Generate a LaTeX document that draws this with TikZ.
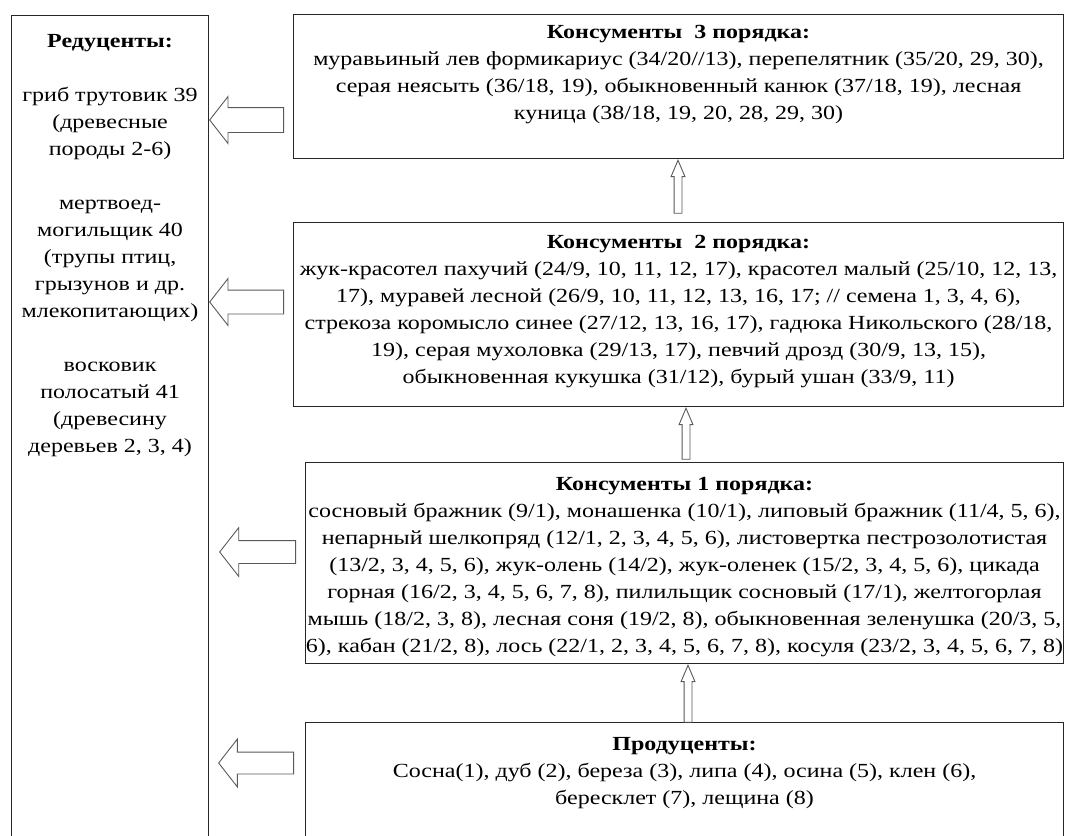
\documentclass[tikz,border=0pt]{standalone}
\usepackage{fontspec}
\setmainfont{Liberation Serif}[FakeStretch=1.2]
\usetikzlibrary{positioning, shapes.arrows}

\begin{document}
\begin{tikzpicture}[x=1pt, y=-1pt]
        % Setup the styles for boxes, texts and block arrows
        \tikzset{box/.style={draw=black!85, line width=1.1pt,
                             inner sep=0pt, anchor=north west},
                 txt/.style={align=center, inner sep=0pt,
                             font=\fontsize{20}{27}\selectfont},
                 larrow/.style={single arrow, draw=black!65, line width=0.9pt,
                                shape border rotate=180,
                                single arrow tip angle=104, anchor=tip},
                 uarrow/.style={single arrow, draw=black!65, line width=0.9pt,
                                inner sep=3.5pt, shape border rotate=90,
                                single arrow head extend=3pt,
                                single arrow tip angle=46, anchor=tip}}

        \useasboundingbox (0,0) rectangle (1065,835);
        \clip (0,0) rectangle (1065,835);

        % Draw the boxes
        \node[box, minimum width=197pt, minimum height=900pt] at (11,15)  (red)  {};
        \node[box, minimum width=770pt, minimum height=144pt] at (293,14)  (k3)   {};
        \node[box, minimum width=770pt, minimum height=184pt] at (293,222) (k2)   {};
        \node[box, minimum width=758pt, minimum height=201pt] at (305,462) (k1)   {};
        \node[box, minimum width=758pt, minimum height=200pt] at (305,722) (prod) {};

        % Fill in the texts
        \node[txt, below=19.5pt of red.north] (redt) {\textbf{Редуценты:}\\[27pt]
            гриб трутовик 39\\ (древесные\\ породы 2-6)\\[27pt]
            мертвоед-\\ могильщик 40\\ (трупы птиц,\\ грызунов и др.\\ млекопитающих)\\[27pt]
            восковик\\ полосатый 41\\ (древесину\\ деревьев 2, 3, 4)};
        \node[txt, below=11.5pt of k3.north] (k3t) {\textbf{Консументы\ \ 3 порядка:}\\
            муравьиный лев формикариус (34/20//13), перепелятник (35/20, 29, 30),\\
            серая неясыть (36/18, 19), обыкновенный канюк (37/18, 19), лесная\\
            куница (38/18, 19, 20, 28, 29, 30)};
        \node[txt, below=13.5pt of k2.north] (k2t) {\textbf{Консументы\ \ 2 порядка:}\\
            жук-красотел пахучий (24/9, 10, 11, 12, 17), красотел малый (25/10, 12, 13,\\
            17), муравей лесной (26/9, 10, 11, 12, 13, 16, 17; // семена 1, 3, 4, 6),\\
            стрекоза коромысло синее (27/12, 13, 16, 17), гадюка Никольского (28/18,\\
            19), серая мухоловка (29/13, 17), певчий дрозд (30/9, 13, 15),\\
            обыкновенная кукушка (31/12), бурый ушан (33/9, 11)};
        \node[txt, below=15.5pt of k1.north] (k1t) {\textbf{Консументы 1 порядка:}\\
            сосновый бражник (9/1), монашенка (10/1), липовый бражник (11/4, 5, 6),\\
            непарный шелкопряд (12/1, 2, 3, 4, 5, 6), листовертка пестрозолотистая\\
            (13/2, 3, 4, 5, 6), жук-олень (14/2), жук-оленек (15/2, 3, 4, 5, 6), цикада\\
            горная (16/2, 3, 4, 5, 6, 7, 8), пилильщик сосновый (17/1), желтогорлая\\
            мышь (18/2, 3, 8), лесная соня (19/2, 8), обыкновенная зеленушка (20/3, 5,\\
            6), кабан (21/2, 8), лось (22/1, 2, 3, 4, 5, 6, 7, 8), косуля (23/2, 3, 4, 5, 6, 7, 8)};
        \node[txt, below=15.5pt of prod.north] (prodt) {\textbf{Продуценты:}\\
            Сосна(1), дуб (2), береза (3), липа (4), осина (5), клен (6),\\
            бересклет (7), лещина (8)};

        % Connect the boxes with block arrows
        \node[larrow, minimum height=74pt, inner sep=12pt, single arrow head extend=11pt]
            at (red.east |- 0,120) (a3) {};
        \node[larrow, minimum height=74pt, inner sep=11.5pt, single arrow head extend=11.5pt]
            at (red.east |- 0,302) (a2) {};
        \node[larrow, minimum height=76pt, inner sep=11pt, single arrow head extend=13pt]
            at ([xshift=10pt]red.east |- 0,552) (a1) {};
        \node[larrow, minimum height=75pt, inner sep=10.5pt, single arrow head extend=13pt]
            at ([xshift=9pt]red.east |- 0,763) (a0) {};

        \node[uarrow, minimum height=53pt] at (k3.south -| 678,0) (u3) {};
        \node[uarrow, minimum height=51pt] at (k2.south -| 686,0) (u2) {};
        \node[uarrow, minimum height=57pt] at (k1.south -| 688,0) (u1) {};
\end{tikzpicture}
\end{document}
